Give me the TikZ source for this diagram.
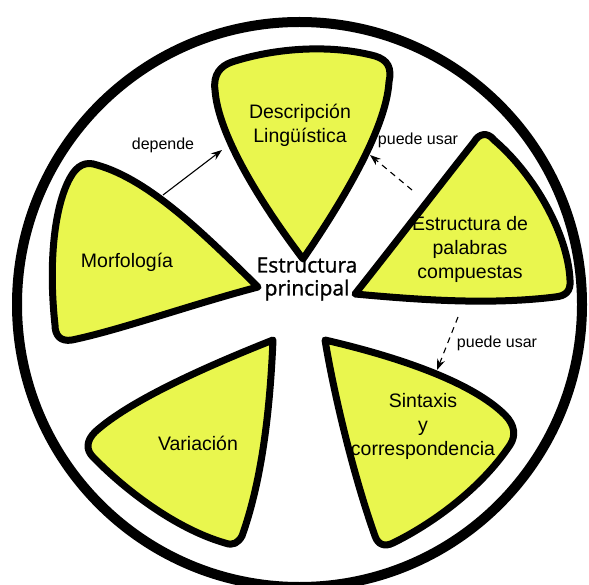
\documentclass[tikz,border=0pt]{standalone}
\usepackage{fontspec}
\setmainfont{Liberation Sans}
\newfontfamily\centrefont[FakeBold=1.2]{Open Sans}
\usetikzlibrary{arrows.meta}
\definecolor{limeFill}{RGB}{233,246,78}
\tikzset{%
  >={Stealth[width=8pt,length=11pt]},
  % Specifications for style of segments and texts:
      segment/.style = {draw=black, fill=limeFill, line width=7pt,
                        line join=round},
         rind/.style = {draw=black, line width=10pt},
     segLabel/.style = {align=center, inner sep=0pt,
                        font=\fontsize{19.5}{24}\selectfont},
    linkLabel/.style = {inner sep=0pt, font=\fontsize{16}{19}\selectfont},
     linkLine/.style = {->, line width=1.1pt},
    linkDashed/.style = {linkLine, dash pattern=on 6pt off 5pt},
}

\begin{document}
\begin{tikzpicture}[x=1pt, y=-1pt]
  \useasboundingbox (0,0) rectangle (589,585);
  % outer rind
  \draw[rind] (299.5,304.5) circle[radius=282.5pt];
  % Specification of the five segments
  % Descripcion (top)
  \draw[segment] (232,62) .. controls (275,48) and (330,44) .. (375,56)
     .. controls (388,60) and (392,68) .. (389,82)
     .. controls (386,130) and (340,205) .. (303,259)
     .. controls (262,205) and (218,135) .. (215,90)
     .. controls (213,75) and (220,66) .. (232,62) -- cycle;
  % Morfologia (left)
  \draw[segment] (97,165) .. controls (150,180) and (205,235) .. (258,287)
     .. controls (190,305) and (120,330) .. (72,340)
     .. controls (60,342) and (55,335) .. (55,325)
     .. controls (48,260) and (55,205) .. (70,178)
     .. controls (77,165) and (86,161) .. (97,165) -- cycle;
  % Estructura de palabras compuestas (right)
  \draw[segment] (474,142) .. controls (479,133) and (488,132) .. (494,140)
     .. controls (535,175) and (568,235) .. (570,280)
     .. controls (571,292) and (565,296) .. (555,297)
     .. controls (490,305) and (420,300) .. (355,294)
     .. controls (390,250) and (440,185) .. (474,142) -- cycle;
  % Sintaxis y correspondencia (lower right)
  \draw[segment] (325,340) .. controls (390,355) and (470,380) .. (505,415)
     .. controls (515,425) and (516,436) .. (510,445)
     .. controls (480,490) and (430,525) .. (393,543)
     .. controls (385,547) and (378,545) .. (375,536)
     .. controls (355,480) and (335,400) .. (325,340) -- cycle;
  % Variacion (lower left)
  \draw[segment] (273,340) .. controls (210,365) and (130,400) .. (95,432)
     .. controls (86,441) and (86,450) .. (93,457)
     .. controls (130,495) and (180,530) .. (225,543)
     .. controls (233,546) and (238,543) .. (242,536)
     .. controls (262,480) and (270,410) .. (273,340) -- cycle;

  % Specification of nodes (position, etc.)
  \node (descripcionText) [segLabel] at (300,125) {Descripción\\Lingüística};
  \node (morfologiaText)  [segLabel] at (127,262) {Morfología};
  \node (compuestasText)  [segLabel] at (470,249)
                                     {Estructura de\\palabras\\compuestas};
  \node (sintaxisText)    [segLabel] at (423,426)
                                     {Sintaxis\\y\\correspondencia};
  \node (variacionText)   [segLabel] at (198,443) {Variación};
  \node (principalText)   [segLabel, font=\centrefont\fontsize{21}{23}\selectfont]
                                     at (307,279) {Estructura\\principal};

  % end points of the connectors on the segment borders
  \coordinate (morfologiaOut)  at (163,195);
  \coordinate (descripcionIn)  at (222,150);
  \coordinate (compuestasOut)  at (412,190);
  \coordinate (descripcionIn2) at (370,155);
  \coordinate (compuestasOut2) at (458,317);
  \coordinate (sintaxisIn)     at (437,370);

  % Specification of lines between nodes specified above
  \draw[linkLine]   (morfologiaOut) -- (descripcionIn);
  \draw[linkDashed] (compuestasOut) -- (descripcionIn2);
  \draw[linkDashed] (compuestasOut2) -- (sintaxisIn);
  \node (dependeLabel) [linkLabel] at (163,145) {depende};
  \node (usarLabelTop) [linkLabel] at (418,140) {puede usar};
  \node (usarLabelLow) [linkLabel] at (497,343) {puede usar};
\end{tikzpicture}
\end{document}
